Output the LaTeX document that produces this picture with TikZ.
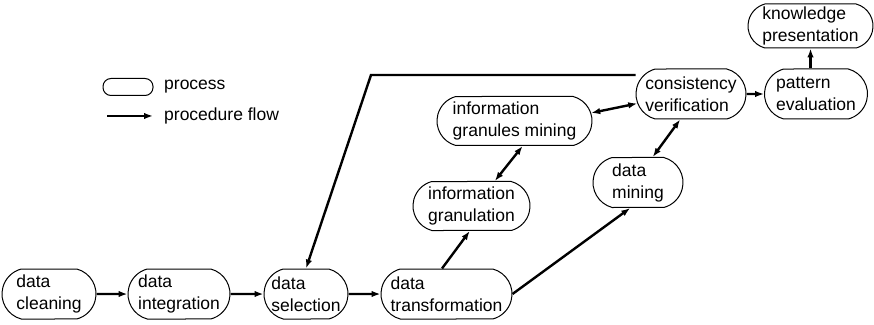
\documentclass[tikz,border=0pt]{standalone}
\usepackage{fontspec}
\setmainfont{Liberation Sans}
\usetikzlibrary{arrows.meta,calc,shapes.misc}
\begin{document}
\begin{tikzpicture}[x=1pt,y=1pt,
 proc/.style={draw=black, line width=1pt, rounded rectangle, rounded rectangle arc length=150, align=left, inner sep=0pt, minimum height=50pt, font=\fontsize{17.5}{22}\selectfont},
 flow/.style={line width=2.4pt, -{Latex[length=9pt,width=6.5pt]}},
 both/.style={line width=2.4pt, {Latex[length=9pt,width=6.5pt]}-{Latex[length=9pt,width=6.5pt]}},
 lbl/.style={font=\fontsize{17.5}{22}\selectfont, anchor=west, inner sep=0pt}]
\useasboundingbox (0,0) rectangle (874,324);
% nodes
\node[proc, minimum width=94pt] (clean) at (49,30) {data\\cleaning};
\node[proc, minimum width=102pt] (integ) at (179,30) {data\\integration};
\node[proc, minimum width=84pt] (sel) at (306,30) {data\\selection};
\node[proc, minimum width=131pt] (trans) at (446.5,30) {data\\transformation};
\node[proc, minimum width=117pt, minimum height=49pt] (gran) at (471.5,118) {information\\granulation};
\node[proc, minimum width=155pt, minimum height=49pt] (gmin) at (514.5,203) {information\\granules mining};
\node[proc, minimum width=90pt] (dmin) at (638,141.5) {data\\mining};
\node[proc, minimum width=110pt] (cons) at (691,230) {consistency\\verification};
\node[proc, minimum width=103pt] (patt) at (816,230) {pattern\\evaluation};
\node[proc, minimum width=125pt, minimum height=44pt] (know) at (810.5,298) {knowledge\\presentation};
% legend
\node[draw=black, line width=1pt, rounded corners=8pt, minimum width=50pt, minimum height=17pt, inner sep=0pt] (legbox) at (128,237) {};
\node[lbl] (legp) at (164,237) {process};
\coordinate (la) at (107,208);
\coordinate (lb) at (153,208);
\draw[flow] (la) -- (lb);
\node[lbl] (legf) at (164,208) {procedure flow};
% connectors
\draw[flow] (clean) -- (integ);
\draw[flow] (integ) -- (sel);
\draw[flow] (sel) -- (trans);
\draw[flow] (trans.100) -- (gran.266);
\draw[flow] (trans.east) -- (dmin.253);
\draw[both] (gran.47) -- (gmin.288);
\draw[both] (gmin.6) -- (cons.190);
\draw[both] (dmin.60) -- (cons.247);
\draw[flow] (cons) -- (patt);
\draw[flow] (patt.north -| know.south) -- (know.south);
\coordinate (fb) at (371,249);
\draw[flow] ([yshift=19pt]cons.west) -- (fb) -- (sel.north);
\end{tikzpicture}
\end{document}
